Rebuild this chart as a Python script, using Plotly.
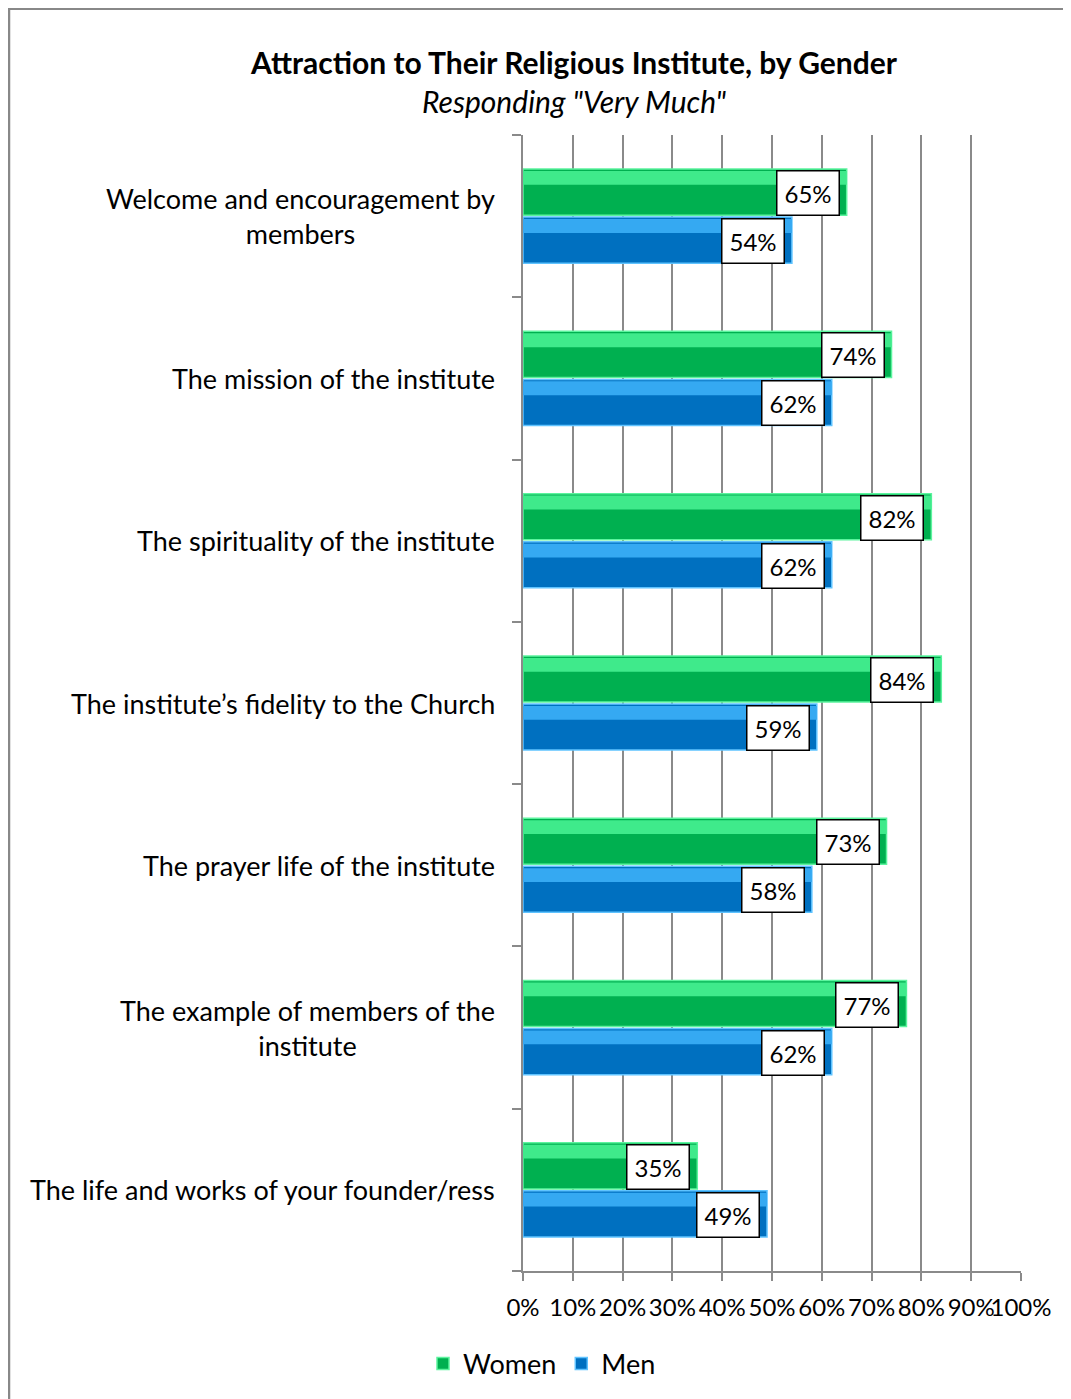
import plotly.graph_objects as go

categories = [
    "Welcome and encouragement by<br>members",
    "The mission of the institute",
    "The spirituality of the institute",
    "The institute\u2019s fidelity to the Church",
    "The prayer life of the institute",
    "The example of members of the<br>institute",
    "The life and works of your founder/ress",
]
women = [65, 74, 82, 84, 73, 77, 35]
men = [54, 62, 62, 59, 58, 62, 49]
x_ticks = [0, 10, 20, 30, 40, 50, 60, 70, 80, 90, 100]
x_tick_labels = [f"{v}%" for v in x_ticks]

FONT = "Lato"
pos = list(range(len(categories)))
BW = 0.284
GAP = 0.006

# figure geometry (the page adds an 8px body margin)
W, H = 1063, 1391
ML, MT = 515, 127
PW, PH = 498, 1136
MR = W - ML - PW
MB = H - MT - PH


def px_x(ax):  # absolute page x -> paper x
    return (ax - 8 - ML) / PW


def px_y(ay):  # absolute page y -> paper y
    return 1 - (ay - 8 - MT) / PH


fig = go.Figure()

series = [
    ("Women", women, "#00B050", "#3FEA8B", "#5CF49E", -GAP - BW),
    ("Men", men, "#0070C0", "#35A9F2", "#5FC3FF", GAP),
]
for name, vals, dark, light, edge, off in series:
    fig.add_trace(go.Bar(
        name=name, x=vals, y=pos, orientation="h",
        width=BW, offset=off,
        marker=dict(color=dark, line=dict(color=edge, width=1.5)),
        hoverinfo="x+name",
    ))
    fig.add_trace(go.Bar(
        x=vals, y=pos, orientation="h",
        width=BW * 0.3, offset=off + 0.012,
        marker=dict(color=light, line=dict(width=0)),
        showlegend=False, hoverinfo="skip",
    ))

annotations = []
for i, (w, m) in enumerate(zip(women, men)):
    for v, yoff in ((w, -GAP - BW / 2), (m, GAP + BW / 2)):
        annotations.append(dict(
            x=v, y=i + yoff, xref="x", yref="y",
            text=f"{v}%", showarrow=False,
            xanchor="right", yanchor="middle", xshift=-7, yshift=-1,
            bgcolor="white", bordercolor="black", borderwidth=1.5,
            borderpad=7, font=dict(family=FONT, size=24, color="black"),
        ))
for i, c in enumerate(categories):
    annotations.append(dict(
        x=0, y=i, xref="paper", yref="y", text=c, showarrow=False,
        xanchor="right", yanchor="middle", xshift=-26, align="center",
        font=dict(family=FONT, size=27, color="black"),
    ))
annotations.append(dict(
    x=px_x(574), y=px_y(62), xref="paper", yref="paper",
    text="<b>Attraction to Their Religious Institute, by Gender</b>",
    showarrow=False, xanchor="center", yanchor="middle",
    font=dict(family=FONT, size=30, color="black"),
))
annotations.append(dict(
    x=px_x(574), y=px_y(101), xref="paper", yref="paper",
    text="<i>Responding \"Very Much\"</i>",
    showarrow=False, xanchor="center", yanchor="middle",
    font=dict(family=FONT, size=30, color="black"),
))

shapes = [
    dict(type="line", xref="paper", yref="paper",
         x0=px_x(8), x1=px_x(1080), y0=px_y(9), y1=px_y(9),
         line=dict(color="#888888", width=2)),
    dict(type="line", xref="paper", yref="paper",
         x0=px_x(9), x1=px_x(9), y0=px_y(9), y1=px_y(1410),
         line=dict(color="#888888", width=2.5)),
]

fig.update_layout(
    width=W, height=H,
    margin=dict(l=ML, r=MR, t=MT, b=MB, autoexpand=False),
    paper_bgcolor="white", plot_bgcolor="white",
    barmode="overlay",
    font=dict(family=FONT, size=22, color="black"),
    showlegend=True,
    legend=dict(orientation="h", x=px_x(542), xanchor="center",
                y=px_y(1364), yanchor="middle",
                font=dict(family=FONT, size=27), traceorder="normal"),
    annotations=annotations,
    shapes=shapes,
    xaxis=dict(range=[0, 100], tickvals=x_ticks, ticktext=x_tick_labels,
               tickangle=0, ticklabelstandoff=6,
               showgrid=True, gridcolor="#8A8A8A", gridwidth=1.5,
               zeroline=False, showline=True, linecolor="#8A8A8A", linewidth=1.5,
               ticks="outside", ticklen=8, tickcolor="#8A8A8A", tickwidth=1.5,
               tickfont=dict(family=FONT, size=24), fixedrange=True),
    yaxis=dict(range=[len(categories) - 0.5, -0.5], tickvals=pos,
               ticktext=[""] * len(pos), showgrid=False, zeroline=False,
               showline=True, linecolor="#8A8A8A", linewidth=1.5,
               ticks="",
               minor=dict(ticks="outside", tick0=0.5, dtick=1, ticklen=9,
                          tickcolor="#8A8A8A", tickwidth=1.5, showgrid=False),
               fixedrange=True),
)

fig.write_html("out.html")
